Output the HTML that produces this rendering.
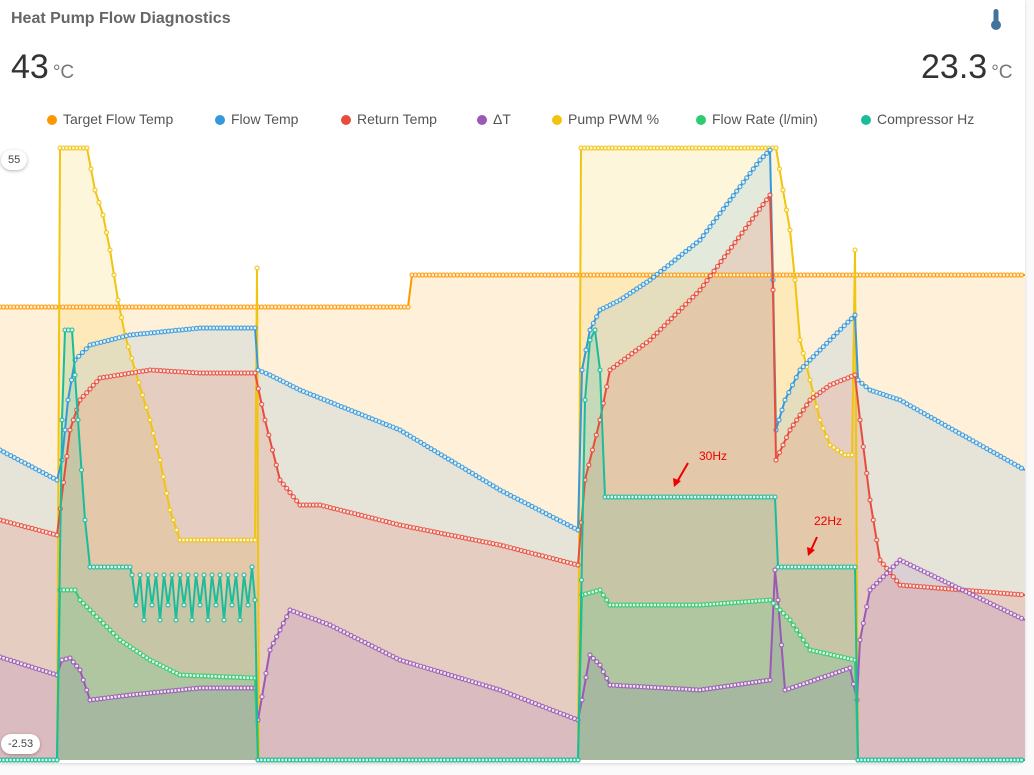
<!DOCTYPE html>
<html><head><meta charset="utf-8"><style>
body{margin:0;width:1034px;height:775px;background:#fafafa;font-family:"Liberation Sans",sans-serif;overflow:hidden;position:relative}
.card{position:absolute;left:0;top:0;width:1025px;height:763px;background:#fff;border-radius:0 0 8px 0;box-shadow:0 1px 3px rgba(0,0,0,.15)}
.t{position:absolute;left:11px;top:10px;font-size:16px;color:#666;font-weight:bold}
.big{position:absolute;top:48px;font-size:34px;color:#333;font-weight:300}
.big span{font-size:19px;color:#777;margin-left:4px}
.leg{position:absolute;top:111px;font-size:14px;color:#555;white-space:nowrap}
.leg i{display:inline-block;width:10px;height:10px;border-radius:50%;margin-right:6px;vertical-align:-1px}
.pill{position:absolute;background:#fff;border-radius:11px;box-shadow:0 1px 3px rgba(0,0,0,.3);font-size:11px;color:#444;padding:4px 7px}
</style></head><body>
<div class="card">
<svg id="s" width="1025" height="763" style="position:absolute;left:0;top:0"></svg>
<div class="t">Heat Pump Flow Diagnostics</div>
<svg style="position:absolute;left:989px;top:8px" width="14" height="24"><rect x="4.5" y="1" width="5" height="15" rx="2.5" fill="#44739e"/><circle cx="7" cy="17" r="5" fill="#44739e"/></svg>
<div class="big" style="left:11px">43<span>°C</span></div>
<div class="big" style="left:921px">23.3<span>°C</span></div>
<div class="leg" style="left:47px"><i style="background:#ff9800"></i>Target Flow Temp</div>
<div class="leg" style="left:215px"><i style="background:#3498db"></i>Flow Temp</div>
<div class="leg" style="left:341px"><i style="background:#e74c3c"></i>Return Temp</div>
<div class="leg" style="left:477px"><i style="background:#9b59b6"></i>ΔT</div>
<div class="leg" style="left:552px"><i style="background:#f1c40f"></i>Pump PWM %</div>
<div class="leg" style="left:696px"><i style="background:#2ecc71"></i>Flow Rate (l/min)</div>
<div class="leg" style="left:861px"><i style="background:#1abc9c"></i>Compressor Hz</div>
<div class="pill" style="left:1px;top:150px">55</div>
<div class="pill" style="left:1px;top:734px">-2.53</div>
</div>
<script>
var B=760;
var S=[
["#ff9800","rgba(255,152,0,0.15)",[[0,307],[408,307],[412,275],[1025,275]]],
["#f1c40f","rgba(241,196,15,0.15)",[[0,760],[57,760],[60,148],[87,148],[95,190],[103,215],[110,250],[118,300],[125,335],[135,370],[150,420],[160,460],[170,510],[180,540],[255,540],[257,268],[259,760],[578,760],[581,148],[776,148],[783,190],[790,230],[795,280],[800,340],[810,380],[820,420],[830,445],[845,455],[852,455],[855,250],[858,760],[1025,760]]],
["#3498db","rgba(52,152,219,0.12)",[[0,450],[57,480],[62,460],[68,400],[75,360],[90,345],[130,335],[200,328],[255,328],[258,370],[270,375],[300,390],[400,430],[500,490],[578,530],[582,370],[590,330],[600,310],[620,300],[650,280],[700,240],[730,200],[760,160],[770,150],[773,280],[776,430],[785,400],[800,370],[830,340],[855,315],[858,380],[870,390],[900,400],[1025,470]]],
["#e74c3c","rgba(231,76,60,0.15)",[[0,520],[57,535],[70,430],[80,400],[100,378],[150,370],[200,373],[255,373],[265,420],[280,480],[300,505],[320,505],[400,525],[500,545],[578,565],[585,480],[600,420],[610,370],[650,340],[700,290],[770,195],[773,290],[776,460],[790,430],[810,400],[830,385],[855,375],[860,420],[870,500],[880,560],[900,585],[1025,595]]],
["#9b59b6","rgba(155,89,182,0.15)",[[0,657],[57,675],[62,660],[70,658],[80,670],[90,700],[130,695],[200,688],[255,688],[258,720],[270,650],[290,610],[330,625],[400,660],[500,690],[578,720],[582,700],[590,655],[600,665],[610,685],[700,690],[770,680],[775,570],[778,600],[785,690],[800,685],[850,668],[857,700],[860,640],[870,590],[900,560],[1025,620]]],
["#2ecc71","rgba(46,204,113,0.15)",[[0,760],[57,760],[60,590],[75,590],[80,600],[100,620],[120,640],[150,660],[180,675],[255,678],[258,760],[578,760],[582,595],[600,590],[610,605],[700,605],[770,600],[790,620],[810,650],[855,660],[858,760],[1025,760]]]
];
var cz=[[0,760],[57,760],[62,420],[65,330],[72,330],[78,420],[85,520],[90,567],[130,567]];
for(var x=132;x<250;x+=8){cz.push([x,575]);cz.push([x+4,x%16<8?605:620]);}
cz=cz.concat([[252,567],[255,600],[258,760],[578,760],[585,400],[590,340],[595,330],[600,370],[605,497],[775,497],[778,567],[855,567],[858,760],[1025,760]]);
S.push(["#1abc9c","rgba(26,188,156,0.15)",cz]);
var h='';
S.forEach(function(s){var p=s[2];var pts=p.map(function(q){return q.join(',')}).join(' ');
h+='<polygon points="0,'+B+' '+pts+' 1025,'+B+'" fill="'+s[1]+'"/>';});
S.forEach(function(s){var p=s[2];var pts=p.map(function(q){return q.join(',')}).join(' ');
h+='<polyline points="'+pts+'" fill="none" stroke="'+s[0]+'" stroke-width="2"/>';
var c='';for(var i=0;i<p.length-1;i++){var a=p[i],b=p[i+1];var d=Math.abs(b[0]-a[0]);var n=Math.max(1,Math.round(d/3.5));
for(var k=0;k<n;k++){var t=k/n;c+='<circle cx="'+(a[0]+(b[0]-a[0])*t).toFixed(1)+'" cy="'+(a[1]+(b[1]-a[1])*t).toFixed(1)+'" r="2"/>';}}
h+='<g fill="#fff" stroke="'+s[0]+'" stroke-width="1.2" opacity="0.85">'+c+'</g>';});
h+='<text x="699" y="460" font-size="12" fill="#e00" font-family="Liberation Sans">30Hz</text><line x1="688" y1="463" x2="677" y2="482" stroke="#e00" stroke-width="2"/><polygon points="674,487 673,478 681,481" fill="#e00"/>';
h+='<text x="814" y="525" font-size="12" fill="#e00" font-family="Liberation Sans">22Hz</text><line x1="817" y1="537" x2="811" y2="550" stroke="#e00" stroke-width="2"/><polygon points="808,556 807,547 815,550" fill="#e00"/>';
document.getElementById('s').innerHTML=h;
</script>
</body></html>
